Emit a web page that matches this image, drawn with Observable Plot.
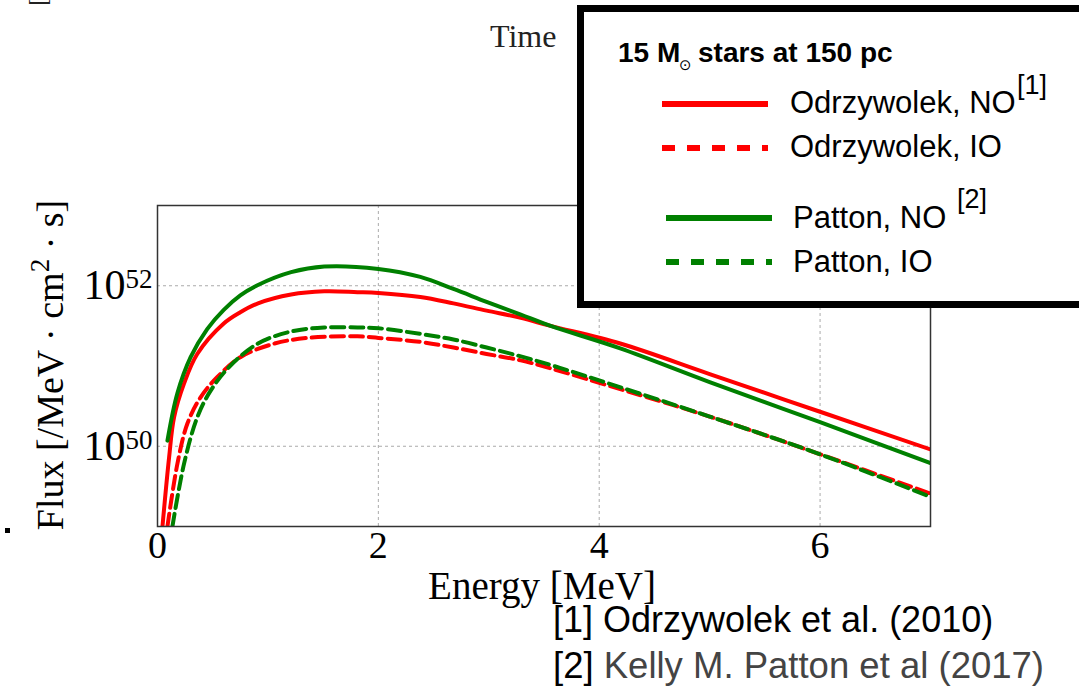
<!DOCTYPE html>
<html><head><meta charset="utf-8">
<script src="https://cdn.jsdelivr.net/npm/d3@7"></script>
<script src="https://cdn.jsdelivr.net/npm/@observablehq/plot@0.6"></script>
<style>
html,body{margin:0;padding:0;background:#fff;}
#chart{position:relative;width:1079px;height:688px;overflow:hidden;}
</style>
</head><body><div id="chart"></div>
<script>
// Energy [MeV] and log10(Flux)
const energyOdNO  = [0.045, 0.105, 0.15, 0.24, 0.36, 0.6, 0.75, 0.91, 1.21, 1.51, 1.81, 2.0, 2.38, 2.68, 2.98, 3.29, 3.56, 4.19, 5.0, 6.0, 7.0];
const logFluxOdNO = [49.0, 49.86, 50.36, 50.78, 51.15, 51.53, 51.67, 51.78, 51.89, 51.93, 51.92, 51.91, 51.86, 51.78, 51.69, 51.60, 51.50, 51.28, 50.90, 50.43, 49.96];

const energyOdIO  = [0.09, 0.18, 0.27, 0.39, 0.54, 0.75, 1.06, 1.36, 1.81, 2.0, 2.38, 2.68, 2.98, 3.29, 3.56, 4.0, 5.0, 6.0, 7.0];
const logFluxOdIO = [49.0, 49.78, 50.28, 50.61, 50.86, 51.11, 51.28, 51.35, 51.37, 51.35, 51.30, 51.23, 51.15, 51.07, 50.97, 50.79, 50.37, 49.9, 49.41];

const energyPaNO  = [0.09, 0.18, 0.30, 0.45, 0.60, 0.75, 0.91, 1.21, 1.51, 2.0, 2.38, 2.68, 2.98, 3.29, 3.56, 4.19, 5.0, 6.0, 7.0];
const logFluxPaNO = [50.07, 50.66, 51.11, 51.46, 51.70, 51.88, 52.01, 52.17, 52.24, 52.21, 52.11, 51.96, 51.80, 51.64, 51.50, 51.22, 50.80, 50.30, 49.79];

const energyPaIO  = [0.135, 0.24, 0.36, 0.48, 0.65, 0.91, 1.21, 1.51, 1.81, 2.0, 2.38, 2.68, 2.98, 3.29, 3.59, 4.0, 5.0, 6.0, 7.0];
const logFluxPaIO = [49.0, 49.78, 50.36, 50.69, 50.99, 51.28, 51.43, 51.48, 51.48, 51.47, 51.40, 51.33, 51.23, 51.12, 51.0, 50.82, 50.37, 49.9, 49.37];

const xTicks = [0, 2, 4, 6];
const yTicks = [1e50, 1e52];

const legendTitle = "15 M";
const legendTitleRest = "stars at 150 pc";
const legendLabels = ["Odrzywolek, NO", "Odrzywolek, IO", "Patton, NO", "Patton, IO"];
const refs = ["[1] Odrzywolek et al. (2010)", "[2] ", "Kelly M. Patton et al (2017)"];

const rows = (xs, ys) => xs.map((e, i) => ({energy: e, flux: Math.pow(10, ys[i])}));
const RED = "#ff0000", GREEN = "#008000";
const lineOpts = (stroke, dash) => ({x: "energy", y: "flux", stroke, strokeWidth: 4, curve: "catmull-rom", strokeDasharray: dash, clip: true});

const svg = Plot.plot({
  width: 1079, height: 688,
  marginLeft: 157, marginRight: 149, marginTop: 205, marginBottom: 162,
  style: {fontFamily: "'Liberation Serif', 'Times New Roman', serif", background: "white", color: "black"},
  x: {domain: [0, 7]},
  y: {type: "log", domain: [1e49, 1e53]},
  marks: [
    Plot.gridX(xTicks.slice(1), {stroke: "#aaaaaa", strokeOpacity: 1, strokeWidth: 1, strokeDasharray: "3,3"}),
    Plot.gridY(yTicks, {stroke: "#aaaaaa", strokeOpacity: 1, strokeWidth: 1, strokeDasharray: "3,3"}),
    Plot.line(rows(energyOdNO, logFluxOdNO), lineOpts(RED)),
    Plot.line(rows(energyOdIO, logFluxOdIO), lineOpts(RED, "13,6")),
    Plot.line(rows(energyPaNO, logFluxPaNO), lineOpts(GREEN)),
    Plot.line(rows(energyPaIO, logFluxPaIO), lineOpts(GREEN, "13,6")),
    Plot.frame({stroke: "#333", strokeWidth: 1.5}),
    Plot.axisX({ticks: xTicks, tickSize: 0, tickPadding: 5, fontSize: 38, label: null, tickFormat: d => String(d)}),
    Plot.axisY({ticks: yTicks, tickSize: 0, tickPadding: 5, fontSize: 42, label: null, tickFormat: d => "10|" + Math.round(Math.log10(d))})
  ]
});

const S = d3.select(svg);
S.selectAll('g[aria-label="y-axis tick label"] text').each(function() {
  const parts = this.textContent.split("|");
  const t = d3.select(this);
  t.text(parts[0]);
  t.append("tspan").attr("dy", -11).attr("font-size", 27).text(parts[1]);
});

const serif = "'Liberation Serif', 'Times New Roman', serif";
const sans = "'Liberation Sans', Arial, Helvetica, sans-serif";
const txt = (x, y, fam, size, fill) => S.append("text").attr("x", x).attr("y", y).attr("text-anchor", "start")
  .attr("font-family", fam).attr("font-size", size).attr("fill", fill);

// axis titles
S.append("text").attr("x", 542).attr("y", 599).attr("text-anchor", "middle")
  .attr("font-family", serif).attr("font-size", 39).attr("fill", "black").text("Energy [MeV]");
const yl = S.append("text").attr("transform", "translate(63,365) rotate(-90)").attr("text-anchor", "middle")
  .attr("font-family", serif).attr("font-size", 38).attr("fill", "black");
yl.append("tspan").text("Flux [/MeV · cm");
yl.append("tspan").attr("dy", -14).attr("font-size", 27).text("2");
yl.append("tspan").attr("dy", 14).text(" · s]");

// stray page fragments
txt(490, 47, serif, 32, "#222").text("Time");
S.append("text").attr("transform", "translate(46,6) rotate(-90)").attr("text-anchor", "start")
  .attr("font-family", serif).attr("font-size", 26).attr("fill", "#222").text("[");
S.append("rect").attr("x", 5).attr("y", 528).attr("width", 5).attr("height", 5).attr("fill", "black");

// legend box
S.append("rect").attr("x", 580.5).attr("y", 8.5).attr("width", 505).attr("height", 296)
  .attr("fill", "white").attr("stroke", "black").attr("stroke-width", 7);
txt(618, 62, sans, 28, "black").attr("font-weight", "bold").text(legendTitle);
txt(679, 70, "'DejaVu Sans', sans-serif", 15, "black").text("⊙");
txt(698, 62, sans, 28, "black").attr("font-weight", "bold").text(legendTitleRest);

const legendItems = [
  {x1: 662, x2: 768, y: 104, tx: 790, ty: 113, color: RED, dash: null},
  {x1: 662, x2: 768, y: 148, tx: 790, ty: 157, color: RED, dash: "13,12"},
  {x1: 666, x2: 772, y: 218, tx: 793, ty: 228, color: GREEN, dash: null},
  {x1: 666, x2: 772, y: 262, tx: 793, ty: 272, color: GREEN, dash: "13,12"}
];
legendItems.forEach((it, i) => {
  const l = S.append("line").attr("x1", it.x1).attr("x2", it.x2).attr("y1", it.y).attr("y2", it.y)
    .attr("stroke", it.color).attr("stroke-width", 6);
  if (it.dash) l.attr("stroke-dasharray", it.dash);
  txt(it.tx, it.ty, sans, 31, "black").text(legendLabels[i]);
});
txt(1017, 94, sans, 27, "black").text("[1]");
txt(957, 208, sans, 27, "black").text("[2]");

// references
txt(553, 632, sans, 36, "black").text(refs[0]);
const r2 = txt(553, 678, sans, 36.5, "black");
r2.append("tspan").attr("fill", "black").text(refs[1]);
r2.append("tspan").attr("fill", "#444").text(refs[2]);

document.getElementById("chart").appendChild(svg);
</script>
</body></html>
